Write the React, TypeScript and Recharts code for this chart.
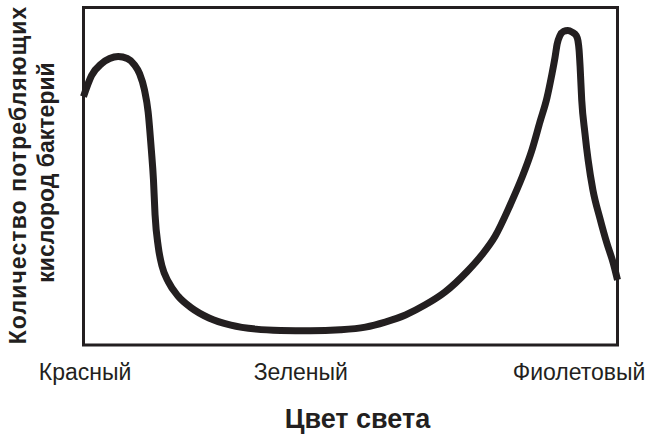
import React from "react";
import { LineChart, Line, XAxis, YAxis, ReferenceArea } from "recharts";

// wavelength position across the spectrum (0 = red end, 100 = violet end)
const wavelength = [
  0, 1.5, 3.4, 4.9, 6.5, 8.2, 9.5, 10.5, 11.4, 12.1, 12.7, 13.1, 13.4, 14.0,
  14.7, 15.9, 17.7, 20.2, 23.5, 27.6, 32.3, 36.9, 42.5, 48.1, 52.8, 56.5,
  60.3, 64.0, 67.7, 71.8, 74.6, 77.1, 79.9, 82.1, 84.0, 85.5, 86.8, 87.7,
  88.3, 88.7, 89.2, 89.9, 90.7, 91.5, 92.3, 92.6, 92.8, 93.0, 93.3, 93.9,
  94.5, 95.4, 96.7, 98.0, 99.2, 100,
];

// relative number of oxygen-consuming bacteria
const bacteria = [
  73.6, 79.8, 83.4, 84.9, 85.5, 84.9, 83.1, 80.4, 75.7, 69.1, 57.9, 49.0,
  38.6, 29.1, 23.4, 18.7, 14.5, 11.0, 8.0, 5.9, 4.7, 4.3, 4.2, 4.5, 5.3, 6.8,
  8.9, 11.9, 15.7, 21.7, 26.7, 32.3, 41.5, 49.6, 57.9, 66.2, 73.3, 80.1, 85.2,
  89.2, 91.6, 92.9, 93.2, 92.7, 91.6, 90.1, 87.5, 82.4, 72.6, 62.8, 54.8,
  45.9, 37.6, 30.2, 24.3, 19.3,
];

const tickPositions = [0.3, 40.7, 92.8];
const tickLabels = ["Красный", "Зеленый", "Фиолетовый"];

const yTitle = ["Количество потребляющих", "кислород бактерий"];
const xTitle = "Цвет света";

const data = wavelength.map((x, i) => ({ x, y: bacteria[i] }));

const INK = "#231f20";
const FONT = '"Liberation Sans", Arial, sans-serif';

function XTick(props: any) {
  const { x, y, payload } = props;
  const idx = tickPositions.indexOf(payload.value);
  return (
    <text
      x={x}
      y={y}
      dy={35}
      textAnchor="middle"
      fontFamily={FONT}
      fontSize={23}
      fill={INK}
    >
      {tickLabels[idx]}
    </text>
  );
}

function YTitle() {
  const lines = [
    { text: yTitle[0], x: 25.5, y: 175, spacing: 1.1 },
    { text: yTitle[1], x: 54, y: 172.5, spacing: 0 },
  ];
  return (
    <g>
      {lines.map((l) => (
        <text
          key={l.text}
          x={l.x}
          y={l.y}
          transform={`rotate(-90, ${l.x}, ${l.y})`}
          textAnchor="middle"
          fontFamily={FONT}
          fontWeight="bold"
          fontSize={23}
          letterSpacing={l.spacing}
          fill={INK}
        >
          {l.text}
        </text>
      ))}
    </g>
  );
}

function XTitle(props: any) {
  const { viewBox } = props;
  const cx = viewBox.x + viewBox.width / 2 + 7;
  return (
    <text
      x={cx}
      y={428}
      textAnchor="middle"
      fontFamily={FONT}
      fontWeight="bold"
      fontSize={27}
      fill={INK}
    >
      {xTitle}
    </text>
  );
}

export default function App() {
  return (
    <div style={{ position: "absolute", left: 0, top: 0, background: "#fff" }}>
      <LineChart
        width={650}
        height={438}
        data={data}
        margin={{ top: 7.5, right: 32.5, bottom: 0, left: 82.5 }}
      >
        <XAxis
          dataKey="x"
          type="number"
          domain={[0, 100]}
          ticks={tickPositions}
          tick={<XTick />}
          tickLine={false}
          tickSize={0}
          tickMargin={0}
          height={93}
          axisLine={false}
          label={<XTitle />}
        />
        <YAxis
          type="number"
          domain={[0, 100]}
          tick={false}
          tickLine={false}
          width={1}
          axisLine={false}
          label={<YTitle />}
        />
        <Line
          dataKey="y"
          type="monotone"
          stroke={INK}
          strokeWidth={7}
          strokeLinecap="butt"
          dot={false}
          activeDot={false}
          isAnimationActive={false}
        />
        {/* frame around the plot area */}
        <ReferenceArea
          x1={0}
          x2={100}
          y1={0}
          y2={100}
          stroke={INK}
          strokeWidth={3}
          fill="none"
          fillOpacity={0}
        />
      </LineChart>
    </div>
  );
}
